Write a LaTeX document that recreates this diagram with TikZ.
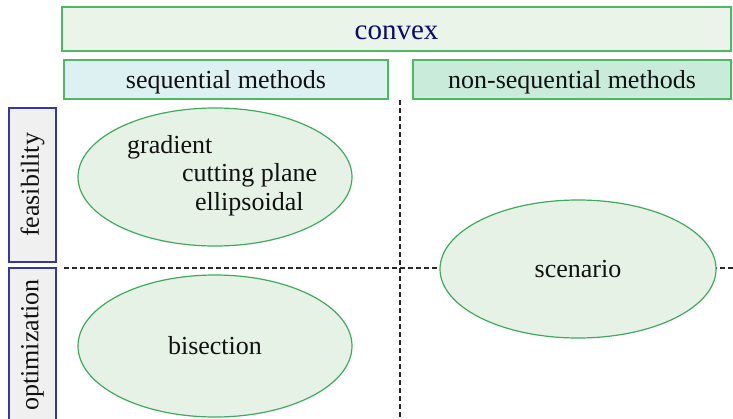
\documentclass[tikz,border=0pt]{standalone}
\usepackage{fontspec}
\setmainfont{Liberation Serif}
\usetikzlibrary{shapes.geometric}
\definecolor{boxgreen}{HTML}{4FB866}
\definecolor{convexfill}{HTML}{EBF4E8}
\definecolor{seqfill}{HTML}{DDF0F2}
\definecolor{nonseqfill}{HTML}{C9ECDA}
\definecolor{ovalfill}{HTML}{E6F2E5}
\definecolor{ovalline}{HTML}{3FAA5E}
\definecolor{sidefill}{HTML}{F0F0F0}
\definecolor{sideline}{HTML}{3434B0}
\definecolor{navy}{HTML}{0A0A6E}
\definecolor{ink}{HTML}{111111}
\tikzset{
  header/.style={draw=boxgreen, line width=1.2pt, inner sep=0pt, text=ink,
    text depth=0pt, font=\fontsize{26}{28}\selectfont},
  sidebox/.style={draw=sideline, fill=sidefill, line width=1.2pt, inner sep=0pt,
    minimum width=154pt, minimum height=47pt, rotate=90, text=ink,
    font=\fontsize{26}{28}\selectfont},
  oval/.style={ellipse, draw=ovalline, fill=ovalfill, line width=1.2pt, inner sep=0pt,
    text=ink, font=\fontsize{26}{28}\selectfont},
  item/.style={anchor=base west, inner sep=0pt, text=ink, font=\fontsize{26}{28}\selectfont},
  divider/.style={dash pattern=on 5pt off 3pt, line width=1.2pt, black!85}
}
\begin{document}
\begin{tikzpicture}[x=1pt, y=-1pt]
\useasboundingbox (0,0) rectangle (733,418);
\clip (0,0) rectangle (733,418);
\fill[white] (0,0) rectangle (733,418);

% column headers
\node[header, fill=convexfill, minimum width=669pt, minimum height=44pt,
  text=navy, text height=20pt, font=\fontsize{29}{32}\selectfont] (convex) at (396.5,29) {convex};
\node[header, fill=seqfill, minimum width=324pt, minimum height=39pt] (seq) at (226,79.5) {sequential methods};
\node[header, fill=nonseqfill, minimum width=318pt, minimum height=39pt] (nonseq) at (572,79.5) {non-sequential methods};

% row labels
\node[sidebox] (feas) at (32.5,185) {feasibility};
\node[sidebox] (opt) at (32.5,345) {optimization};

% grid dividers
\coordinate (hl) at (64,268);
\coordinate (hr) at (733,268);
\coordinate (vt) at (400,100);
\coordinate (vb) at (400,418);
\draw[divider] (hl) -- (hr);
\draw[divider] (vt) -- (vb);

% method families
\node[oval, minimum width=274pt, minimum height=138pt] (feasoval) at (215,177) {};
\node[item] (grad) at (127,153) {gradient};
\node[item] (cut) at (182,181) {cutting plane};
\node[item] (ell) at (195,210) {ellipsoidal};
\node[oval, minimum width=274pt, minimum height=142pt] (bisect) at (215,346) {bisection};
\node[oval, minimum width=276pt, minimum height=138pt] (scen) at (578,269) {scenario};
\end{tikzpicture}
\end{document}
